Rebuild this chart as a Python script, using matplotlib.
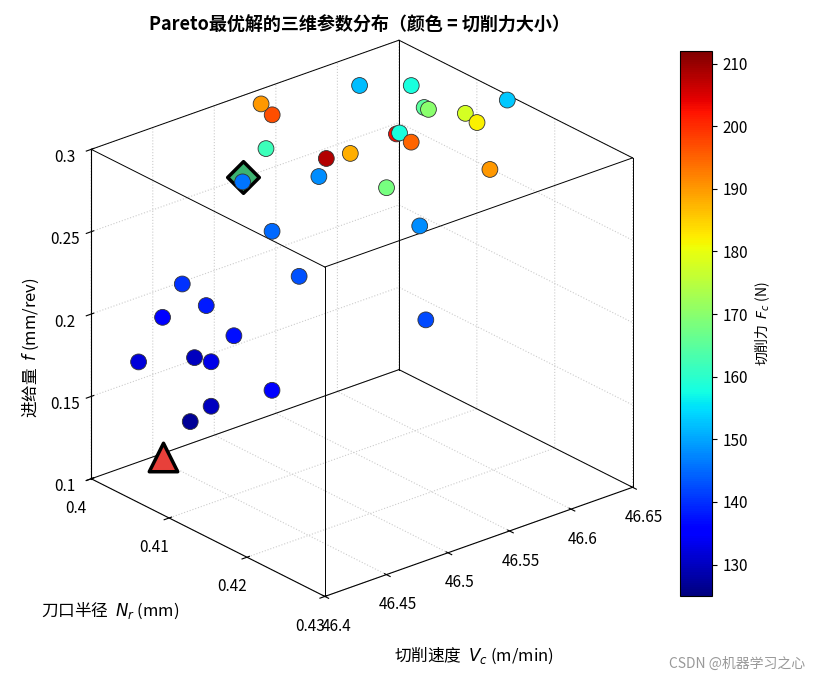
import matplotlib
matplotlib.use("Agg")
import matplotlib.pyplot as plt
import numpy as np

plt.rcParams['font.family'] = ['Noto Sans CJK SC', 'DejaVu Sans']

Vc = [46.538, 46.547, 46.618, 46.641, 46.642, 46.636, 46.645, 46.628, 46.628, 46.523,
      46.572, 46.582, 46.610, 46.603, 46.603, 46.610, 46.528, 46.485, 46.545, 46.471,
      46.534, 46.474, 46.436, 46.501, 46.420, 46.427, 46.421, 46.410, 46.408, 46.412,
      46.414, 46.412, 46.414]
Nr = [0.400, 0.400, 0.400, 0.403, 0.4045, 0.406, 0.4147, 0.412, 0.4135, 0.403,
      0.403, 0.4045, 0.406, 0.4075, 0.409, 0.418, 0.409, 0.406, 0.415, 0.412,
      0.421, 0.415, 0.406, 0.427, 0.406, 0.4105, 0.415, 0.4045, 0.412, 0.4135,
      0.421, 0.4135, 0.4105]
f = [0.291, 0.282, 0.281, 0.282, 0.272, 0.276, 0.300, 0.290, 0.288, 0.275,
     0.256, 0.260, 0.268, 0.274, 0.272, 0.275, 0.271, 0.272, 0.274, 0.260,
     0.268, 0.239, 0.223, 0.234, 0.207, 0.223, 0.217, 0.179, 0.200, 0.200,
     0.200, 0.173, 0.156]
Fc = [190, 197, 152, 158, 165, 170, 153, 178, 182, 162,
      208, 188, 203, 158, 195, 190, 148, 146, 168, 145,
      148, 143, 140, 142, 135, 138, 137, 132, 130, 133,
      135, 130, 127]
best_f = (46.485, 0.406, 0.275)      # diamond
best_other = (46.455, 0.4005, 0.100)  # triangle

xlim = (46.4, 46.65); ylim = (0.4, 0.43); zlim = (0.1, 0.3)
xticks = [46.4, 46.45, 46.5, 46.55, 46.6, 46.65]
yticks = [0.4, 0.41, 0.42, 0.43]
zticks = [0.1, 0.15, 0.2, 0.25, 0.3]

fig = plt.figure(figsize=(8.17, 6.81), dpi=100)
ax = fig.add_axes([0.04, 0.055, 0.785, 0.93], projection='3d', proj_type='ortho')
ax.view_init(elev=25, azim=-130)

sc = ax.scatter(Vc, Nr, f, c=Fc, cmap='jet', vmin=125, vmax=212, s=130,
                edgecolors='#333333', linewidths=0.6, depthshade=False, alpha=1)
ax.scatter(*[[v] for v in best_f], marker='D', s=260, c='#3cb371',
           edgecolors='black', linewidths=2.5, depthshade=False)
ax.scatter(*[[v] for v in best_other], marker='^', s=420, c='#e8403a',
           edgecolors='black', linewidths=2.5, depthshade=False)

ax.set_xlim(*xlim); ax.set_ylim(ylim[1], ylim[0]); ax.set_zlim(*zlim)
ax.set_xticks(xticks); ax.set_yticks(yticks); ax.set_zticks(zticks)
ax.set_xticklabels([f"{t:g}" for t in xticks], fontsize=11)
ax.set_yticklabels([f"{t:g}" for t in yticks], fontsize=11)
ax.set_zticklabels([f"{t:g}" for t in zticks], fontsize=11)

for axis in (ax.xaxis, ax.yaxis, ax.zaxis):
    axis.set_pane_color((1, 1, 1, 0))
    axis.line.set_color('black')
    axis._axinfo['grid'].update(color='#cccccc', linestyle=':', linewidth=0.8)
ax.set_box_aspect((1.05, 0.95, 0.95))

x0, x1 = xlim; y0, y1 = ylim; z0, z1 = zlim
edges = [((x0, x1), (y0, y0), (z1, z1)), ((x0, x1), (y1, y1), (z1, z1)),
         ((x0, x0), (y0, y1), (z1, z1)), ((x1, x1), (y0, y1), (z1, z1)),
         ((x0, x0), (y0, y0), (z0, z1)), ((x1, x1), (y0, y0), (z0, z1)),
         ((x1, x1), (y1, y1), (z0, z1)), ((x0, x0), (y1, y1), (z0, z1)),
         ((x0, x1), (y0, y0), (z0, z0)), ((x1, x1), (y0, y1), (z0, z0))]
for ex, ey, ez in edges:
    ax.plot(ex, ey, ez, color='black', linewidth=0.7)

fig.text(0.44, 0.955, 'Pareto最优解的三维参数分布（颜色 = 切削力大小）', ha='center',
         fontsize=13, fontweight='bold')
fig.text(0.58, 0.03, '切削速度  $V_c$ (m/min)', ha='center', fontsize=12)
fig.text(0.05, 0.095, '刀口半径  $N_r$ (mm)', ha='left', fontsize=12)
fig.text(0.025, 0.49, '进给量  $f$ (mm/rev)', rotation=90, va='center', fontsize=12)

cax = fig.add_axes([0.832, 0.125, 0.04, 0.8])
cb = fig.colorbar(sc, cax=cax, ticks=range(130, 211, 10))
cb.ax.tick_params(labelsize=11)
cb.set_label('切削力  $F_c$ (N)', fontsize=10)

fig.text(0.985, 0.015, 'CSDN @机器学习之心', ha='right', va='bottom',
         fontsize=10, color='#999999')
fig.savefig('out.png', dpi=100)
